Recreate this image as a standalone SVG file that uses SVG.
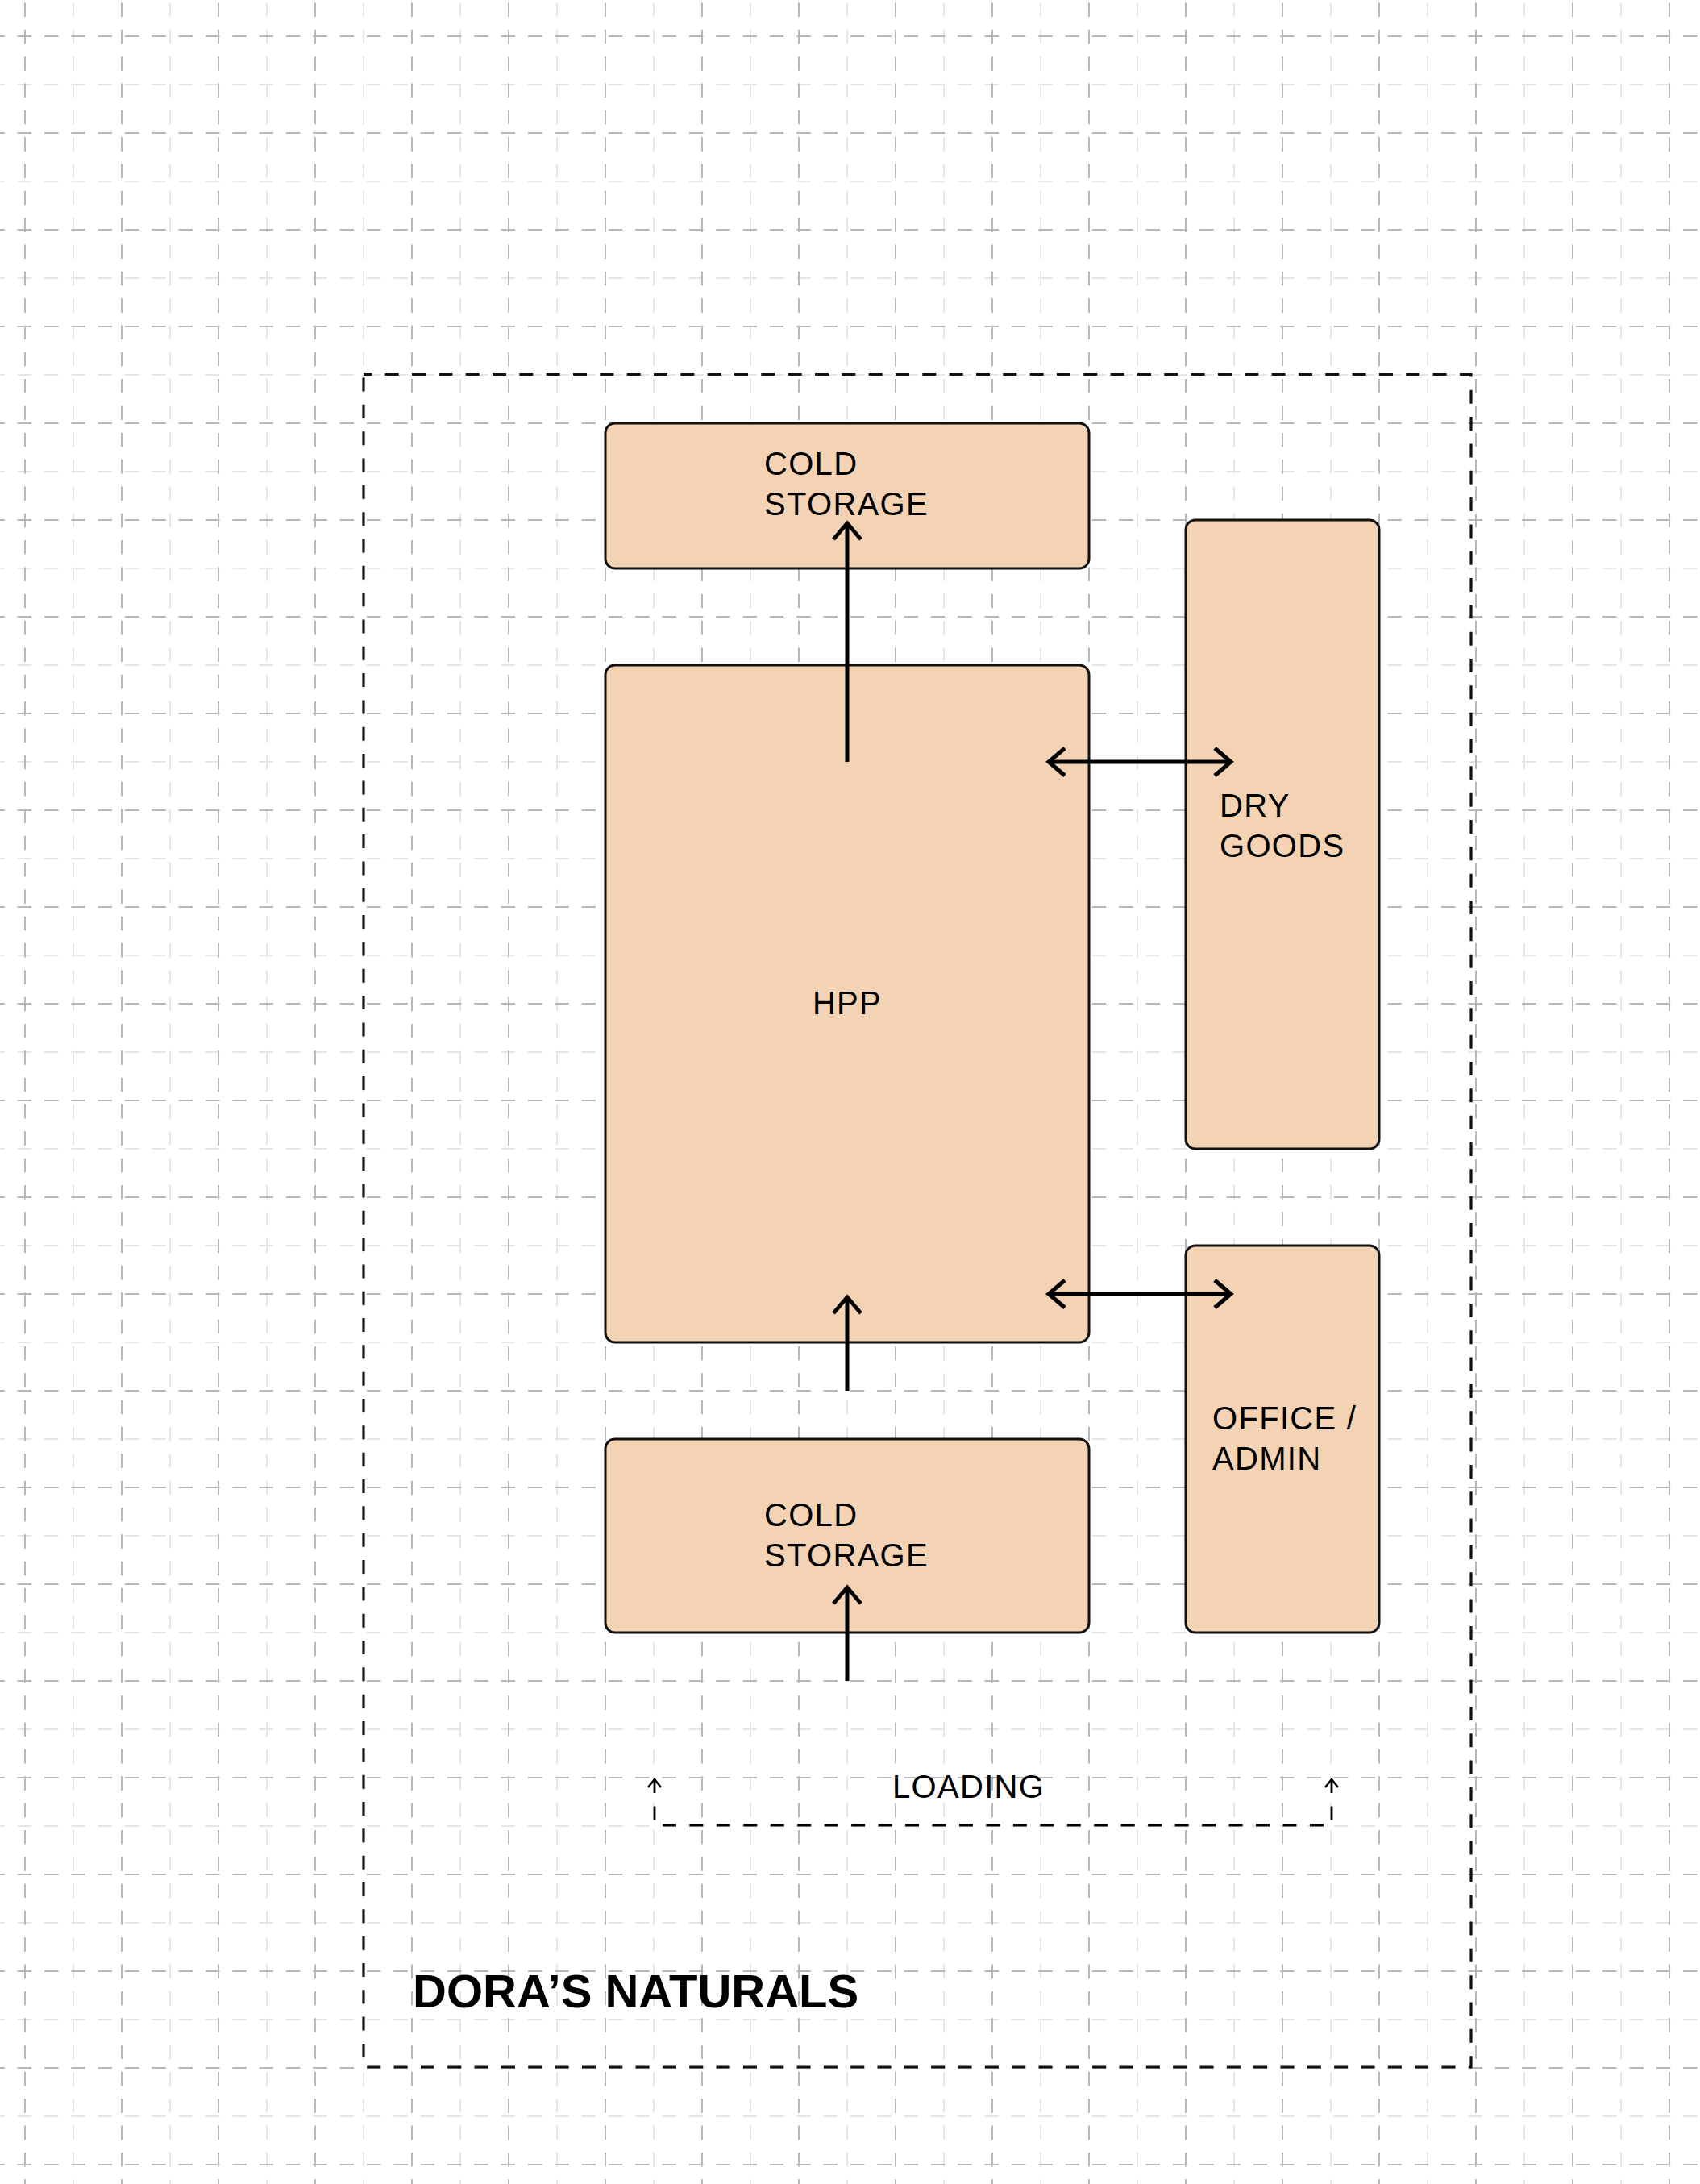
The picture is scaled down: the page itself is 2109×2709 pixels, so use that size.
<svg xmlns="http://www.w3.org/2000/svg" width="2109" height="2709" viewBox="0 0 2109 2709">
<style>
.gmaj{fill:none;stroke:#b8b8b8;stroke-width:2;stroke-dasharray:17.5 15.83}
.gmin{fill:none;stroke:#e6e6e6;stroke-width:2;stroke-dasharray:17.5 15.83}
.box{fill:#f4d3b5;stroke:#111;stroke-width:3}
.lbl{font-family:"Liberation Sans",Arial,Helvetica,sans-serif;font-size:40px;letter-spacing:1.3px;fill:#000}
.title{font-family:"Liberation Sans",Arial,Helvetica,sans-serif;font-size:58px;font-weight:bold;fill:#000}
.arr{fill:none;stroke:#000;stroke-width:5}
.load{fill:none;stroke:#000;stroke-width:2.8;stroke-dasharray:17 16.46}
</style>
<defs>
<marker id="ah" markerUnits="userSpaceOnUse" markerWidth="60" markerHeight="60" refX="0" refY="0" orient="auto-start-reverse" overflow="visible">
<path d="M-20,-17 L0,0 L-20,17" fill="none" stroke="#000" stroke-width="5" stroke-linejoin="miter"/>
</marker>
<marker id="ahs" markerUnits="userSpaceOnUse" markerWidth="30" markerHeight="30" refX="0" refY="0" orient="auto-start-reverse" overflow="visible">
<path d="M-10,-8 L0,0 L-10,8" fill="none" stroke="#000" stroke-width="2.5" stroke-linejoin="miter"/>
</marker>
</defs>
<rect width="2109" height="2709" fill="#fff"/>
<g id="grid">
<path class="gmin" stroke-dashoffset="29.83" d="M91 0V2709M211 0V2709M331 0V2709M451 0V2709M571 0V2709M691 0V2709M811 0V2709M931 0V2709M1051 0V2709M1171 0V2709M1291 0V2709M1411 0V2709M1531 0V2709M1651 0V2709M1771 0V2709M1891 0V2709M2011 0V2709"/>
<path class="gmin" stroke-dashoffset="11.63" d="M0 105H2109M0 225H2109M0 345H2109M0 465H2109M0 585H2109M0 705H2109M0 825H2109M0 945H2109M0 1065H2109M0 1185H2109M0 1305H2109M0 1425H2109M0 1545H2109M0 1665H2109M0 1785H2109M0 1905H2109M0 2025H2109M0 2145H2109M0 2265H2109M0 2385H2109M0 2505H2109M0 2625H2109"/>
<path class="gmaj" stroke-dashoffset="29.83" d="M31 0V2709M151 0V2709M271 0V2709M391 0V2709M511 0V2709M631 0V2709M751 0V2709M871 0V2709M991 0V2709M1111 0V2709M1231 0V2709M1351 0V2709M1471 0V2709M1591 0V2709M1711 0V2709M1831 0V2709M1951 0V2709M2071 0V2709"/>
<path class="gmaj" stroke-dashoffset="11.63" d="M0 45H2109M0 165H2109M0 285H2109M0 405H2109M0 525H2109M0 645H2109M0 765H2109M0 885H2109M0 1005H2109M0 1125H2109M0 1245H2109M0 1365H2109M0 1485H2109M0 1605H2109M0 1725H2109M0 1845H2109M0 1965H2109M0 2085H2109M0 2205H2109M0 2325H2109M0 2445H2109M0 2565H2109M0 2685H2109"/>
</g>
<g id="site">
<path d="M451 464.5H1825V2564H451Z" fill="none" stroke="#111" stroke-width="3.2" stroke-dasharray="17 16.33" stroke-dashoffset="6.63"/>
<text class="title" x="512" y="2490">DORA’S NATURALS</text>
</g>
<g id="cold-storage-top">
<rect class="box" x="751" y="525" width="600" height="180" rx="12"/>
<text class="lbl" x="948" y="589">COLD</text>
<text class="lbl" x="948" y="639">STORAGE</text>
</g>
<g id="hpp">
<rect class="box" x="751" y="825" width="600" height="840" rx="12"/>
<text class="lbl" x="1051" y="1258" text-anchor="middle">HPP</text>
</g>
<g id="dry-goods">
<rect class="box" x="1471" y="645" width="240" height="780" rx="12"/>
<text class="lbl" x="1513" y="1013">DRY</text>
<text class="lbl" x="1513" y="1063">GOODS</text>
</g>
<g id="office-admin">
<rect class="box" x="1471" y="1545" width="240" height="480" rx="12"/>
<text class="lbl" x="1504" y="1773">OFFICE /</text>
<text class="lbl" x="1504" y="1823">ADMIN</text>
</g>
<g id="cold-storage-bottom">
<rect class="box" x="751" y="1785" width="600" height="240" rx="12"/>
<text class="lbl" x="948" y="1893">COLD</text>
<text class="lbl" x="948" y="1943">STORAGE</text>
</g>
<g id="loading">
<text class="lbl" x="1107" y="2230">LOADING</text>
</g>
<g id="connectors">
<path class="arr" d="M1051 945V649" marker-end="url(#ah)"/>
<path class="arr" d="M1301 945H1527" marker-start="url(#ah)" marker-end="url(#ah)"/>
<path class="arr" d="M1301 1605H1527" marker-start="url(#ah)" marker-end="url(#ah)"/>
<path class="arr" d="M1051 1725V1609" marker-end="url(#ah)"/>
<path class="arr" d="M1051 2085V1969" marker-end="url(#ah)"/>
<path class="load" d="M812 2207V2264H1652V2207" marker-start="url(#ahs)" marker-end="url(#ahs)"/>
</g>
</svg>
